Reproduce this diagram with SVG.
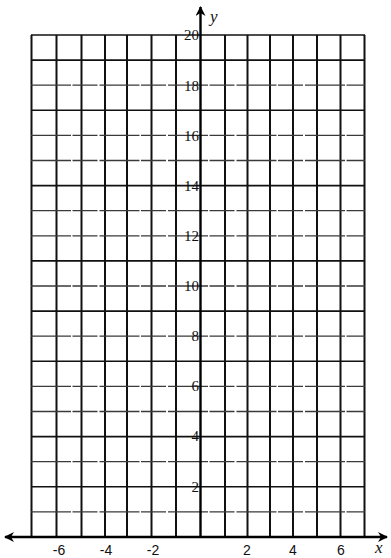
<svg xmlns="http://www.w3.org/2000/svg" width="391" height="558" viewBox="0 0 391 558">
<style>
.v{stroke:#111;stroke-width:2;fill:none}
.h{stroke:#111;stroke-width:1.6;fill:none}
.hl{stroke:#3a3a3a;stroke-width:1.3;fill:none;stroke-dasharray:40 1.5 25 2}
.ax{stroke:#000;stroke-width:2.4;fill:none}
.yl{font-family:"Liberation Serif",serif;font-size:15px;fill:#111;text-anchor:end}
.xl{font-family:"Liberation Sans",sans-serif;font-size:14px;fill:#111;text-anchor:middle}
.var{font-family:"Liberation Serif",serif;font-style:italic;font-size:17px;fill:#111}
</style>
<defs>
<marker id="ah" viewBox="0 0 10 10" refX="9" refY="5" markerWidth="12" markerHeight="10" orient="auto-start-reverse" markerUnits="userSpaceOnUse">
<path d="M0,0 L10,5 L0,10 L3,5 Z" fill="#000"/>
</marker>
</defs>
<rect width="391" height="558" fill="#fff"/>
<g id="grid">
<g id="verticals">
<line class="v" x1="31.5" y1="35" x2="31.5" y2="537"/>
<line class="v" x1="56.5" y1="35" x2="56.5" y2="537"/>
<line class="v" x1="81.5" y1="35" x2="81.5" y2="537"/>
<line class="v" x1="105" y1="35" x2="105" y2="537"/>
<line class="v" x1="127" y1="35" x2="127" y2="537"/>
<line class="v" x1="151.5" y1="35" x2="151.5" y2="537"/>
<line class="v" x1="176" y1="35" x2="176" y2="537"/>
<line class="v" x1="225" y1="35" x2="225" y2="537"/>
<line class="v" x1="247.5" y1="35" x2="247.5" y2="537"/>
<line class="v" x1="270" y1="35" x2="270" y2="537"/>
<line class="v" x1="293" y1="35" x2="293" y2="537"/>
<line class="v" x1="317" y1="35" x2="317" y2="537"/>
<line class="v" x1="340.5" y1="35" x2="340.5" y2="537"/>
<line class="v" x1="364.5" y1="35" x2="364.5" y2="537"/>
</g>
<g id="horizontals">
<line class="h" x1="31" y1="35" x2="365" y2="35"/>
<line class="h" x1="31" y1="60.1" x2="365" y2="60.1"/>
<line class="hl" x1="31" y1="85.2" x2="365" y2="85.2"/>
<line class="h" x1="31" y1="110.3" x2="365" y2="110.3"/>
<line class="hl" x1="31" y1="135.4" x2="365" y2="135.4"/>
<line class="hl" x1="31" y1="160.5" x2="365" y2="160.5"/>
<line class="h" x1="31" y1="185.6" x2="365" y2="185.6"/>
<line class="hl" x1="31" y1="210.7" x2="365" y2="210.7"/>
<line class="hl" x1="31" y1="235.8" x2="365" y2="235.8"/>
<line class="h" x1="31" y1="260.9" x2="365" y2="260.9"/>
<line class="hl" x1="31" y1="286" x2="365" y2="286"/>
<line class="h" x1="31" y1="311.1" x2="365" y2="311.1"/>
<line class="hl" x1="31" y1="336.2" x2="365" y2="336.2"/>
<line class="h" x1="31" y1="361.3" x2="365" y2="361.3"/>
<line class="hl" x1="31" y1="386.4" x2="365" y2="386.4"/>
<line class="hl" x1="31" y1="411.5" x2="365" y2="411.5"/>
<line class="h" x1="31" y1="436.6" x2="365" y2="436.6"/>
<line class="hl" x1="31" y1="461.7" x2="365" y2="461.7"/>
<line class="h" x1="31" y1="486.8" x2="365" y2="486.8"/>
<line class="hl" x1="31" y1="511.9" x2="365" y2="511.9"/>
</g>
</g>
<g id="connectors">
<line id="x-axis" class="ax" x1="5" y1="537" x2="387" y2="537" marker-start="url(#ah)" marker-end="url(#ah)"/>
<line id="y-axis" class="ax" x1="200.5" y1="537" x2="200.5" y2="7" marker-end="url(#ah)"/>
</g>
<g id="y-labels">
<text class="yl" x="199" y="40">20</text>
<text class="yl" x="199" y="91">18</text>
<text class="yl" x="199" y="141">16</text>
<text class="yl" x="199" y="191">14</text>
<text class="yl" x="199" y="241">12</text>
<text class="yl" x="199" y="291">10</text>
<text class="yl" x="199" y="341">8</text>
<text class="yl" x="199" y="391">6</text>
<text class="yl" x="199" y="441">4</text>
<text class="yl" x="199" y="492">2</text>
</g>
<g id="x-labels">
<text class="xl" x="59" y="555">-6</text>
<text class="xl" x="106" y="555">-4</text>
<text class="xl" x="153" y="555">-2</text>
<text class="xl" x="247" y="555">2</text>
<text class="xl" x="293" y="555">4</text>
<text class="xl" x="341" y="555">6</text>
</g>
<g id="axis-names">
<text class="var" x="210" y="22">y</text>
<text class="var" x="375" y="553">x</text>
</g>
</svg>
